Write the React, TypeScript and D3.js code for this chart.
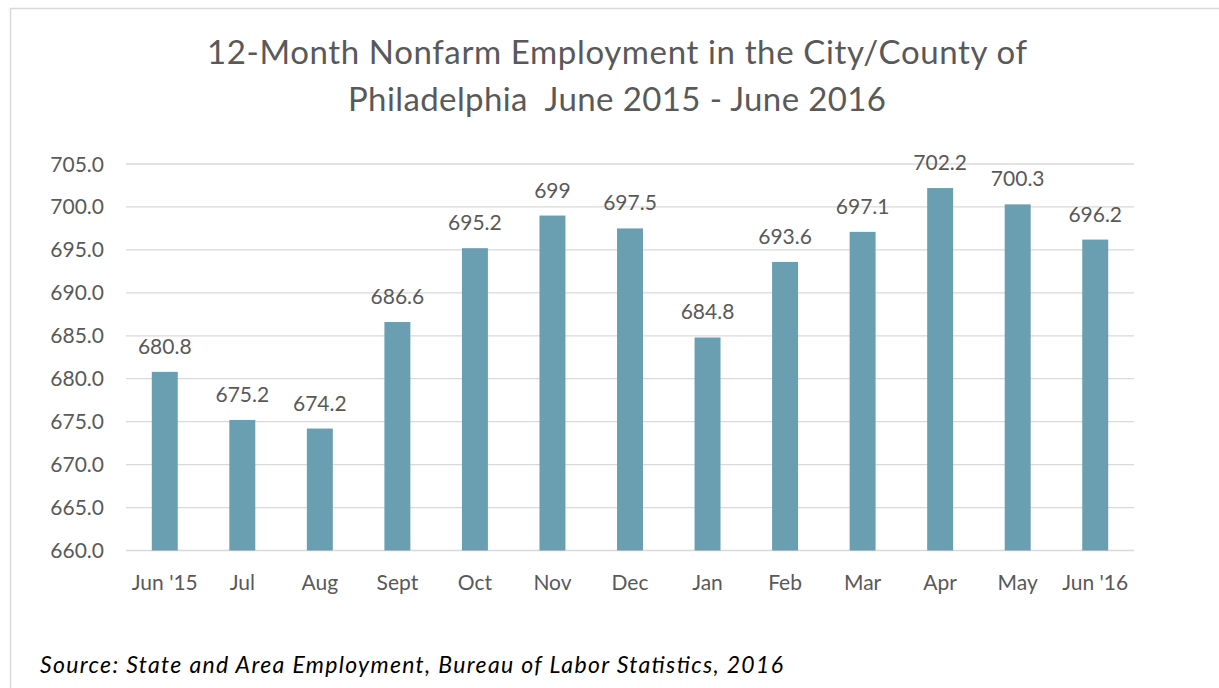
import React from "react";
import * as d3 from "d3";

const categories = ["Jun '15", "Jul", "Aug", "Sept", "Oct", "Nov", "Dec", "Jan", "Feb", "Mar", "Apr", "May", "Jun '16"];
const values = [680.8, 675.2, 674.2, 686.6, 695.2, 699, 697.5, 684.8, 693.6, 697.1, 702.2, 700.3, 696.2];
const valueLabels = ["680.8", "675.2", "674.2", "686.6", "695.2", "699", "697.5", "684.8", "693.6", "697.1", "702.2", "700.3", "696.2"];
const yTicks = [660, 665, 670, 675, 680, 685, 690, 695, 700, 705];
const titleLines = ["12-Month Nonfarm Employment in the City/County of", "Philadelphia  June 2015 - June 2016"];
const titleWidths = [820, 538];
const sourceText = "Source: State and Area Employment, Bureau of Labor Statistics, 2016";

const W = 1219;
const H = 688;
const FONT = "Lato, 'Open Sans', sans-serif";

export default function App() {
  const x = d3.scaleBand<string>().domain(categories).range([126, 1134]).paddingInner(0.665).paddingOuter(0.3325);
  const y = d3.scaleLinear().domain([660, 705]).range([550.5, 164]);
  const textColor = "#595959";
  return (
    <svg width={W} height={H} style={{ position: "absolute", left: 0, top: 0, background: "#fff" }}>
      <rect x={10.5} y={8.5} width={W + 20} height={H + 20} fill="#fff" stroke="#d9d9d9" strokeWidth={1.5} />
      {titleLines.map((t, i) => (
        <text
          key={i}
          x={617}
          y={64 + i * 47}
          textAnchor="middle"
          fontFamily={FONT}
          fontSize={33}
          fill={textColor}
          textLength={titleWidths[i]}
          lengthAdjust="spacing"
          style={{ whiteSpace: "pre" }}
        >
          {t}
        </text>
      ))}
      {yTicks.map((t) => (
        <g key={t}>
          <line x1={126} x2={1134} y1={y(t)} y2={y(t)} stroke="#d9d9d9" strokeWidth={1.3} />
          <text x={104} y={y(t) + 7.5} textAnchor="end" fontFamily={FONT} fontSize={21} fill={textColor}>
            {d3.format(".1f")(t)}
          </text>
        </g>
      ))}
      {categories.map((c, i) => {
        const bx = x(c)!;
        const bw = x.bandwidth();
        return (
          <g key={c}>
            <rect x={bx} y={y(values[i])} width={bw} height={y(660) - y(values[i])} fill="#6a9fb1" />
            <text x={bx + bw / 2} y={y(values[i]) - 18} textAnchor="middle" fontFamily={FONT} fontSize={21} fill={textColor}>
              {valueLabels[i]}
            </text>
            <text x={bx + bw / 2} y={590} textAnchor="middle" fontFamily={FONT} fontSize={21} fill={textColor}>
              {c}
            </text>
          </g>
        );
      })}
      <text x={40} y={673} fontFamily={FONT} fontSize={23} fontStyle="italic" fill="#000" textLength={743} lengthAdjust="spacing">
        {sourceText}
      </text>
    </svg>
  );
}
